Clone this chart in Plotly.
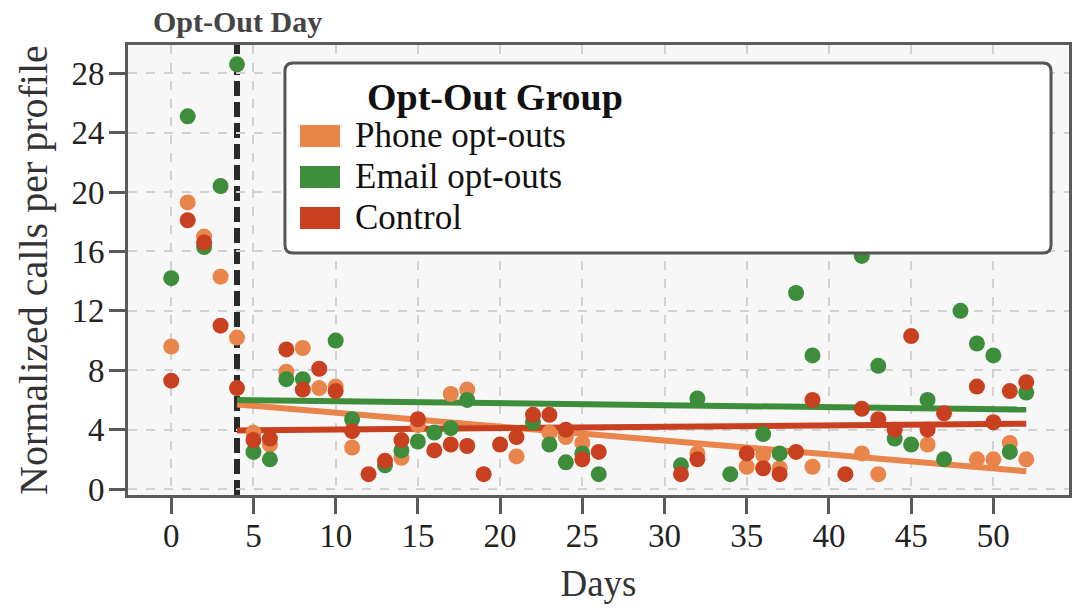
import plotly.graph_objects as go

# días desde el inicio
days = [0, 1, 2, 3, 4, 5, 6, 7, 8, 9,
        10, 11, 12, 13, 14, 15, 16, 17, 18, 19,
        20, 21, 22, 23, 24, 25, 26, 27, 28, 29,
        30, 31, 32, 33, 34, 35, 36, 37, 38, 39,
        40, 41, 42, 43, 44, 45, 46, 47, 48, 49,
        50, 51, 52]

phone = [9.6, 19.3, 17.0, 14.3, 10.2, 3.8, 3.0, 7.9, 9.5, 6.8,
         6.9, 2.8, None, None, 2.1, 4.3, None, 6.4, 6.7, None,
         None, 2.2, None, 3.8, 3.5, 3.1, None, None, None, None,
         None, None, 2.4, None, None, 1.5, 2.3, 1.4, None, 1.5,
         None, None, 2.4, 1.0, None, None, 3.0, None, None, 2.0,
         2.0, 3.1, 2.0]

email = [14.2, 25.1, 16.3, 20.4, 28.6, 2.5, 2.0, 7.4, 7.4, None,
         10.0, 4.7, None, 1.6, 2.6, 3.2, 3.8, 4.1, 6.0, None,
         None, None, 4.5, 3.0, 1.8, 2.4, 1.0, None, None, None,
         None, 1.6, 6.1, None, 1.0, None, 3.7, 2.4, 13.2, 9.0,
         None, None, 15.7, 8.3, 3.4, 3.0, 6.0, 2.0, 12.0, 9.8,
         9.0, 2.5, 6.5]

control = [7.3, 18.1, 16.6, 11.0, 6.8, 3.3, 3.4, 9.4, 6.7, 8.1,
           6.6, 3.9, 1.0, 1.9, 3.3, 4.7, 2.6, 3.0, 2.9, 1.0,
           3.0, 3.5, 5.0, 5.0, 4.0, 2.0, 2.5, None, None, None,
           None, 1.0, 2.0, None, None, 2.4, 1.4, 1.0, 2.5, 6.0,
           None, 1.0, 5.4, 4.7, 4.0, 10.3, 4.0, 5.1, None, 6.9,
           4.5, 6.6, 7.2]

# tendencias lineales después del día de opt-out
trend_days = [4, 52]
phone_trend = [5.7, 1.2]
email_trend = [6.0, 5.35]
control_trend = [3.95, 4.4]

opt_out_day = 4
group_names = ["Phone opt-outs", "Email opt-outs", "Control"]
colors = ["#E9844A", "#3D8D3B", "#C8401F"]

FONT = "Liberation Serif"

fig = go.Figure()

# líneas de tendencia
for tr, c in zip([phone_trend, email_trend, control_trend], colors):
    fig.add_trace(go.Scatter(x=trend_days, y=tr, mode="lines",
                             line=dict(color=c, width=6), showlegend=False,
                             hoverinfo="skip"))

# puntos
for vals, c, name in zip([phone, email, control], colors, group_names):
    fig.add_trace(go.Scatter(x=days, y=vals, mode="markers", name=name,
                             marker=dict(color=c, size=16, line=dict(width=0)),
                             showlegend=False))

# línea del día de opt-out
fig.add_shape(type="line", x0=opt_out_day, x1=opt_out_day, xref="x",
              y0=0, y1=1, yref="paper", layer="between",
              line=dict(color="#2a2a2a", width=6, dash="15px,6px"))

fig.add_annotation(x=opt_out_day, y=1.052, xref="x", yref="paper",
                   text="<b>Opt-Out Day</b>", showarrow=False,
                   font=dict(family=FONT, size=30, color="#444"),
                   xanchor="center", yanchor="middle")

# título del eje y como anotación
fig.add_annotation(x=-0.101, y=0.5, xref="paper", yref="paper",
                   text="Normalized calls per profile", textangle=-90,
                   showarrow=False, xanchor="center", yanchor="middle",
                   font=dict(family=FONT, size=40, color="#333"))

# leyenda dibujada a mano
x0, x1, y0, y1 = 0.1668, 0.9809, 0.5378, 0.96
dx, dy = 0.0085, 0.0178
path = (f"M {x0+dx},{y1} L {x1-dx},{y1} Q {x1},{y1} {x1},{y1-dy} "
        f"L {x1},{y0+dy} Q {x1},{y0} {x1-dx},{y0} L {x0+dx},{y0} "
        f"Q {x0},{y0} {x0},{y0+dy} L {x0},{y1-dy} Q {x0},{y1} {x0+dx},{y1} Z")
fig.add_shape(type="path", path=path, xref="paper", yref="paper",
              fillcolor="rgba(255,255,255,0.97)", layer="above",
              line=dict(color="#555", width=3))

fig.add_annotation(x=0.252, y=0.884, xref="paper", yref="paper",
                   text="<b>Opt-Out Group</b>", showarrow=False,
                   font=dict(family=FONT, size=38, color="#111"),
                   xanchor="left", yanchor="middle")

item_y = [0.7978, 0.7067, 0.6156]
for name, c, yy in zip(group_names, colors, item_y):
    fig.add_shape(type="rect", xref="paper", yref="paper",
                  x0=0.1828, x1=0.2253, y0=yy - 0.0244, y1=yy + 0.0244,
                  fillcolor=c, line=dict(width=0), layer="above")
    fig.add_annotation(x=0.2391, y=yy, xref="paper", yref="paper",
                       text=name, showarrow=False,
                       font=dict(family=FONT, size=35, color="#111"),
                       xanchor="left", yanchor="middle")

axis_common = dict(
    showline=True, linewidth=3, linecolor="#5a5a5a", mirror=True,
    ticks="outside", ticklen=16, tickwidth=3, tickcolor="#5a5a5a",
    showgrid=True, gridcolor="#d2d2d2", gridwidth=1.5, griddash="dash",
    zeroline=False, automargin=False,
    tickfont=dict(family=FONT, size=33, color="#222"),
)

fig.update_xaxes(range=[-2.63, 54.6], tickvals=[0, 5, 10, 15, 20, 25, 30, 35, 40, 45, 50],
                 ticklabelstandoff=-7,
                 title=dict(text="Days", font=dict(family=FONT, size=37, color="#333"),
                            standoff=18),
                 **axis_common)
fig.update_yaxes(range=[-0.4, 29.9], tickvals=[0, 4, 8, 12, 16, 20, 24, 28],
                 ticklabelstandoff=-2,
                 **axis_common)

fig.update_layout(
    width=1074, height=609,
    margin=dict(l=128, r=5, t=45, b=114),
    plot_bgcolor="#f7f7f7",
    paper_bgcolor="white",
    font=dict(family=FONT),
    showlegend=False,
)

# sin margen del body para que la figura quede en (0,0)
fig.write_html("out.html", config={"displayModeBar": False},
               post_script="document.body.style.margin='0';")
